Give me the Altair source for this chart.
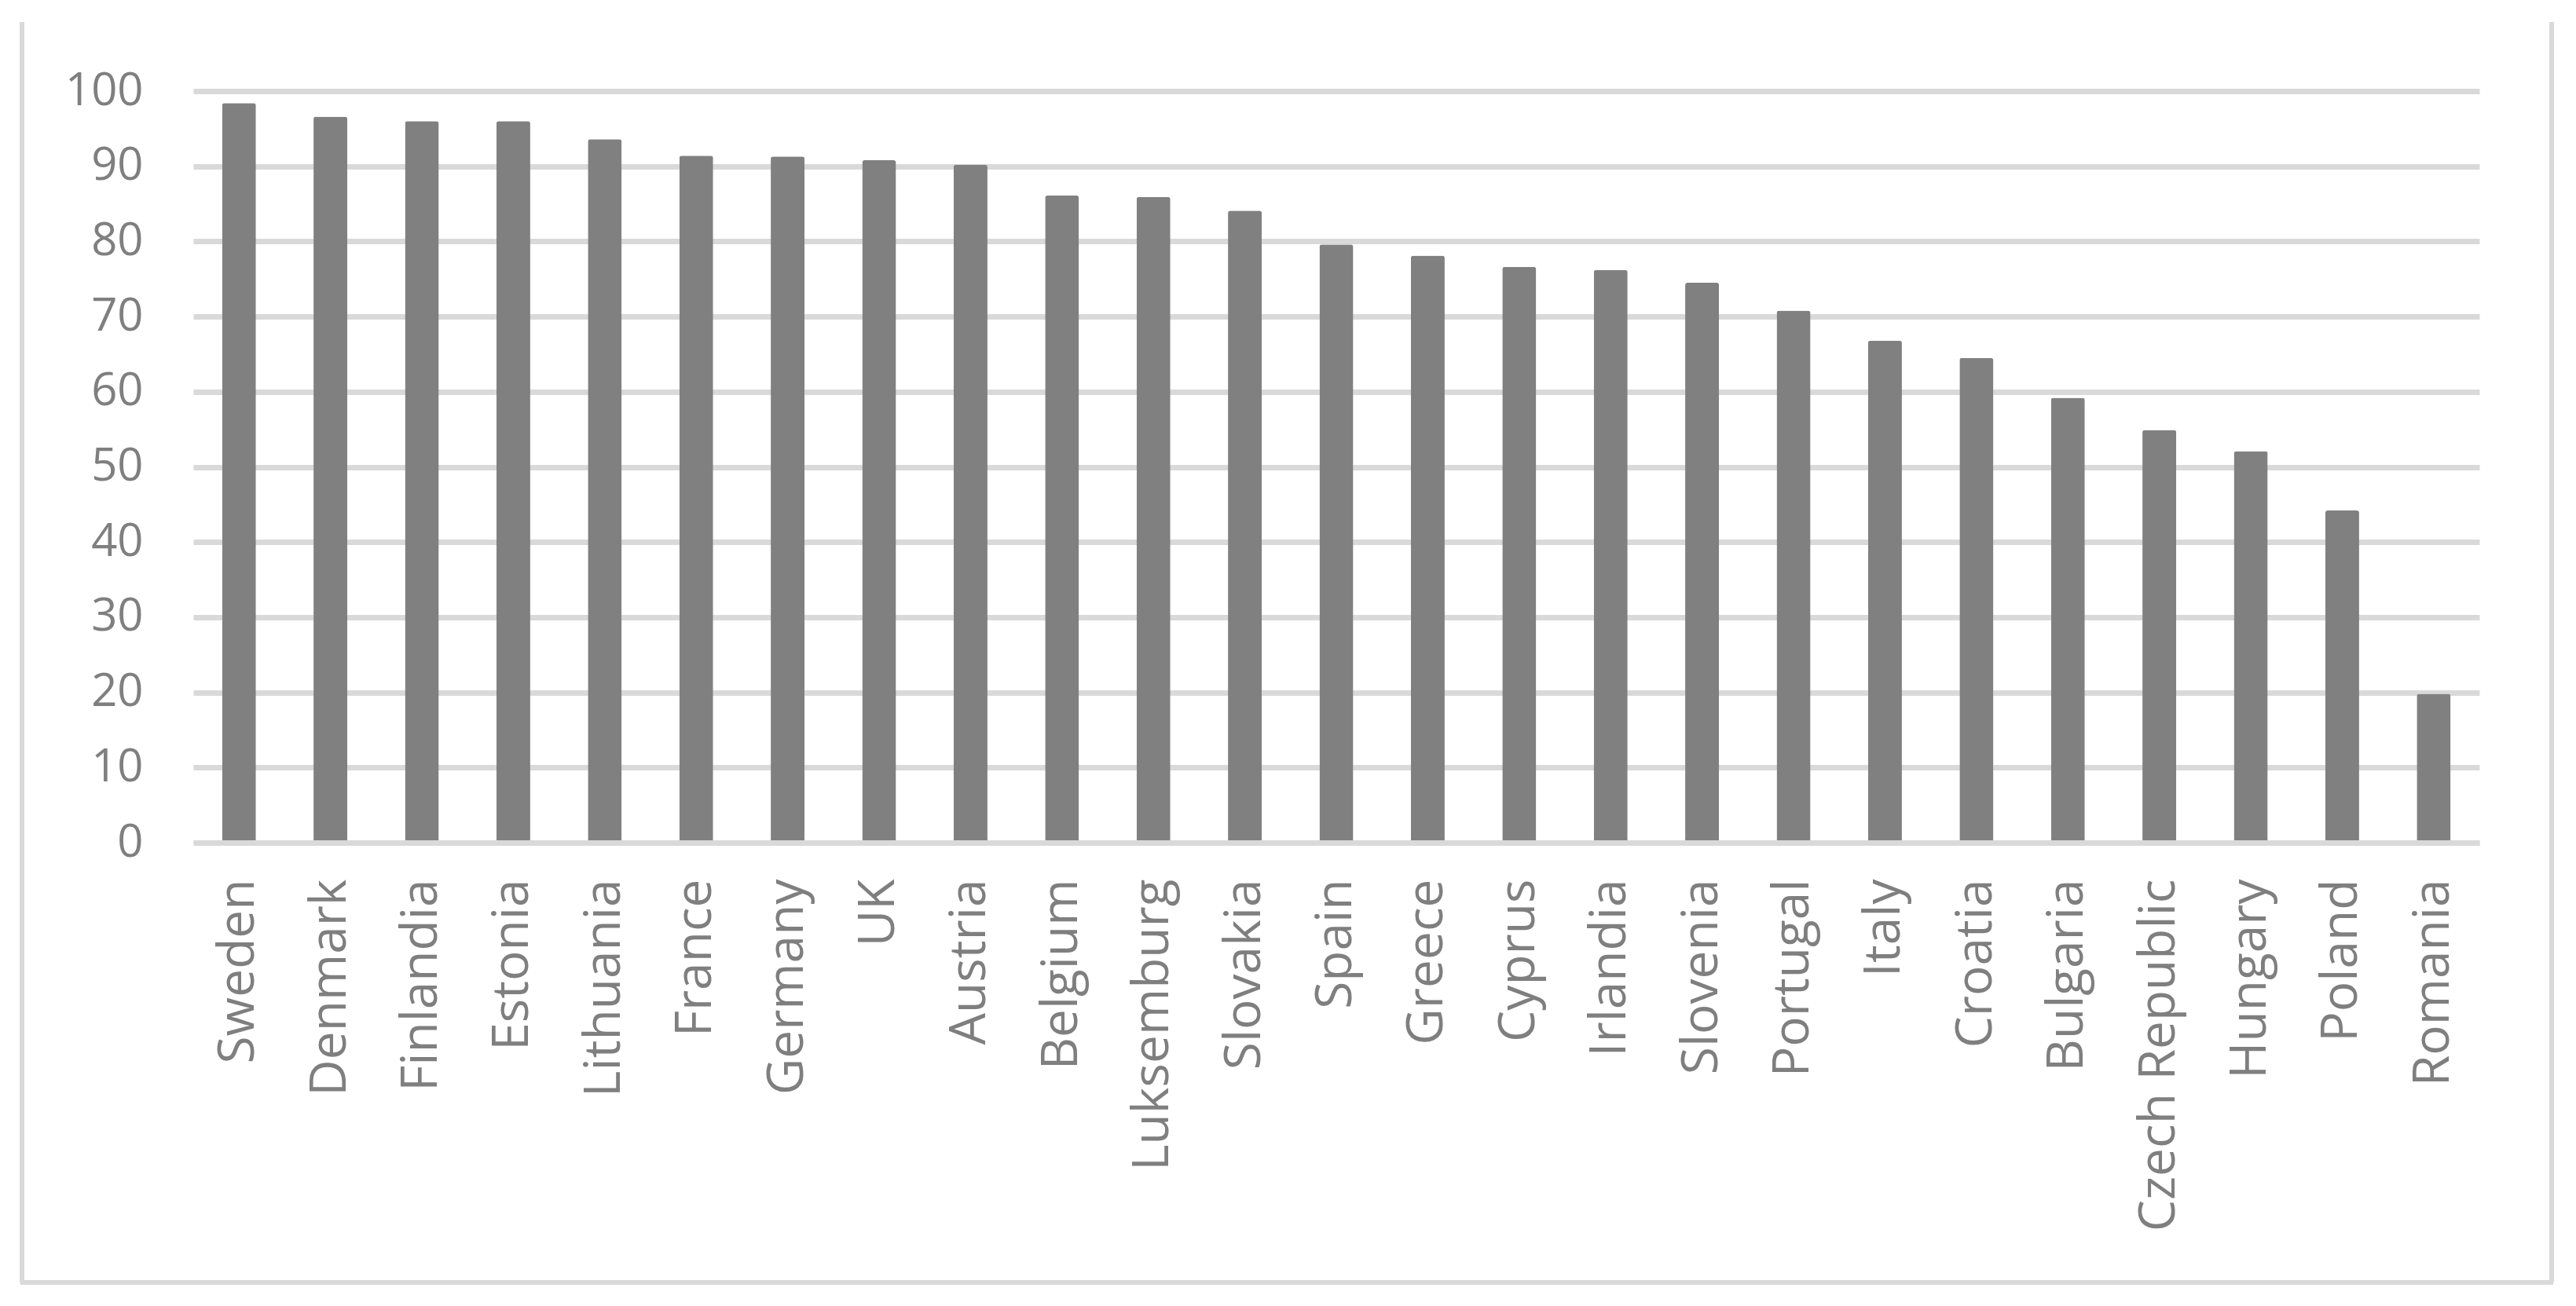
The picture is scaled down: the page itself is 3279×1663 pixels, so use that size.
import altair as alt
import pandas as pd

countries = ["Sweden", "Denmark", "Finlandia", "Estonia", "Lithuania", "France",
             "Germany", "UK", "Austria", "Belgium", "Luksemburg", "Slovakia",
             "Spain", "Greece", "Cyprus", "Irlandia", "Slovenia", "Portugal",
             "Italy", "Croatia", "Bulgaria", "Czech Republic", "Hungary",
             "Poland", "Romania"]
values = [98.4, 96.6, 96.0, 96.0, 93.6, 91.4, 91.3, 90.8, 90.2, 86.1, 85.9, 84.1,
          79.6, 78.1, 76.6, 76.2, 74.5, 70.8, 66.8, 64.5, 59.2, 54.9, 52.1,
          44.2, 19.8]
y_ticks = [0, 10, 20, 30, 40, 50, 60, 70, 80, 90, 100]

df = pd.DataFrame({"country": countries, "value": values})

GRID = "#d9d9d9"
TEXT = "#7f7f7f"
FONT = "Open Sans"

W, H = 2910, 957

bars = alt.Chart(df).mark_bar(
    color="#808080", cornerRadiusTopLeft=3, cornerRadiusTopRight=3
).encode(
    x=alt.X("country:N", sort=countries, title=None,
            scale=alt.Scale(paddingInner=0.63, paddingOuter=0.315),
            axis=alt.Axis(labelAngle=-90, labelFont=FONT, labelFontSize=64,
                          labelColor=TEXT, labelPadding=46, ticks=False,
                          domain=True, domainColor=GRID, domainWidth=7,
                          zindex=1, labelLimit=800)),
    y=alt.Y("value:Q", title=None,
            scale=alt.Scale(domain=[0, 100], nice=False),
            axis=alt.Axis(values=y_ticks, labelFont=FONT, labelFontSize=58,
                          labelColor=TEXT, labelPadding=64, ticks=False,
                          domain=False, grid=True, gridColor=GRID,
                          gridWidth=7)),
)

# outer frame of the chart (left, right, bottom sides)
frame_left = alt.Chart(df).mark_rule(color=GRID, strokeWidth=5, clip=False).encode(
    x=alt.value(-218), y=alt.value(-88), y2=alt.value(1517))
frame_right = alt.Chart(df).mark_rule(color=GRID, strokeWidth=5, clip=False).encode(
    x=alt.value(3002), y=alt.value(-88), y2=alt.value(1517))
frame_bottom = alt.Chart(df).mark_rule(color=GRID, strokeWidth=5, clip=False).encode(
    x=alt.value(-220), x2=alt.value(3004), y=alt.value(1517))

chart = alt.layer(bars, frame_left, frame_right, frame_bottom).properties(
    width=W, height=H,
    background="white",
    autosize=alt.AutoSizeParams(type="none"),
    padding={"left": 238, "top": 108, "right": 115, "bottom": 575},
).configure_view(stroke=None, strokeWidth=0)

chart.save("out.html", embed_options={"renderer": "svg", "actions": False})
